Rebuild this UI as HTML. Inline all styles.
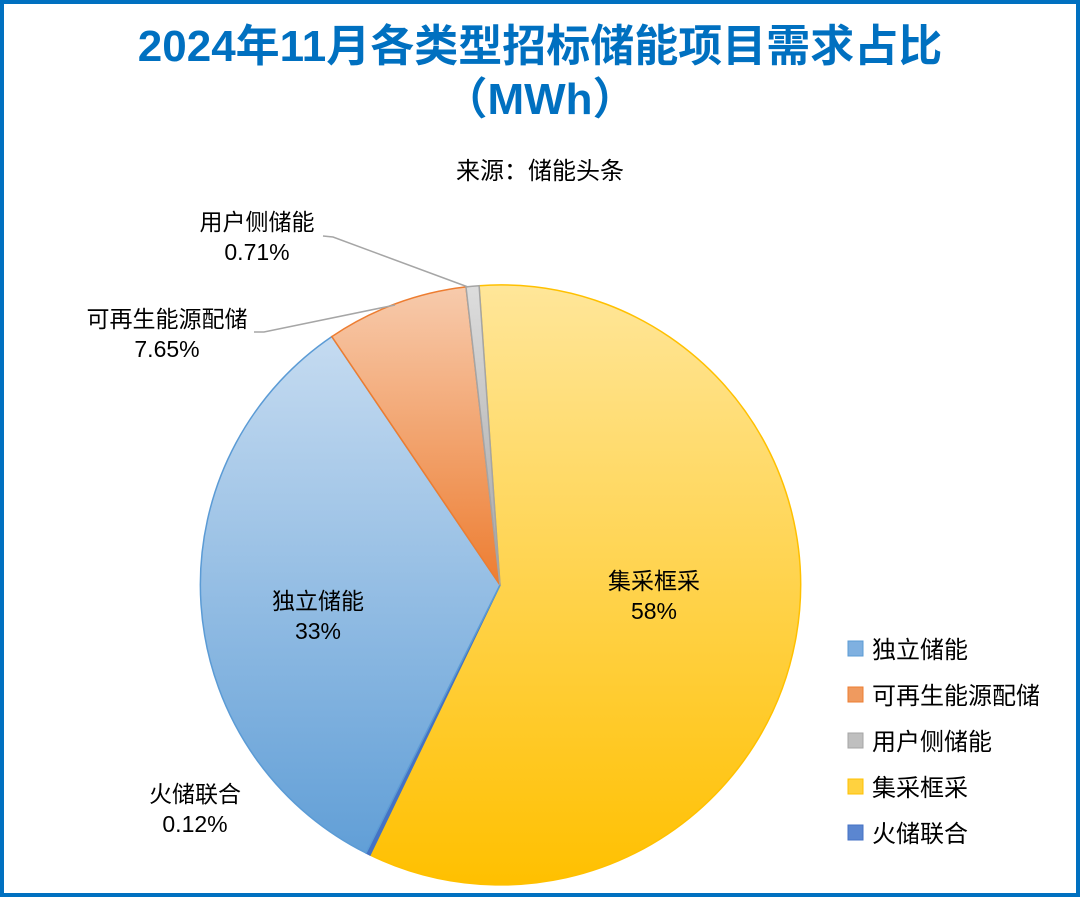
<!DOCTYPE html>
<html><head><meta charset="utf-8"><style>
body{margin:0;background:#fff}
svg{display:block}
text{font-family:"Liberation Sans","Noto Sans CJK SC",sans-serif}
</style></head><body>
<svg width="1080" height="898" viewBox="0 0 1080 898">
<defs>
<linearGradient id="gy" gradientUnits="userSpaceOnUse" x1="0" y1="285" x2="0" y2="885"><stop offset="0" stop-color="#ffe699"/><stop offset="1" stop-color="#ffc000"/></linearGradient>
<linearGradient id="gb" gradientUnits="userSpaceOnUse" x1="0" y1="285" x2="0" y2="885"><stop offset="0" stop-color="#cfe1f3"/><stop offset="1" stop-color="#5b9bd5"/></linearGradient>
<linearGradient id="go" gradientUnits="userSpaceOnUse" x1="0" y1="285" x2="0" y2="585"><stop offset="0" stop-color="#f7cbad"/><stop offset="1" stop-color="#ed7d31"/></linearGradient>
<linearGradient id="gg" gradientUnits="userSpaceOnUse" x1="0" y1="285" x2="0" y2="585"><stop offset="0" stop-color="#dddddd"/><stop offset="1" stop-color="#a5a5a5"/></linearGradient>
</defs>
<rect x="2" y="2" width="1076" height="893" fill="#fff" stroke="#0070c0" stroke-width="4"/>
<text x="540" y="61" text-anchor="middle" font-size="44" font-weight="bold" fill="#0070c0">2024年11月各类型招标储能项目需求占比</text>
<text x="540" y="114" text-anchor="middle" font-size="44" font-weight="bold" fill="#0070c0">（MWh）</text>
<text x="540" y="179" text-anchor="middle" font-size="24" fill="#000">来源：储能头条</text>
<path d="M500,585 L479.1,285.7 A300,300 0 1 1 370,855 Z" fill="url(#gy)" stroke="#ffc000" stroke-width="1.5"/>
<path d="M500,585 L370,855 A300,300 0 0 1 366,853 Z" fill="#4472c4" stroke="#4472c4" stroke-width="1.5"/>
<path d="M500,585 L366,853 A300,300 0 0 1 331.8,336.6 Z" fill="url(#gb)" stroke="#5b9bd5" stroke-width="1.5"/>
<path d="M500,585 L331.8,336.6 A300,300 0 0 1 466,286.9 Z" fill="url(#go)" stroke="#ed7d31" stroke-width="1.5"/>
<path d="M500,585 L466,286.9 A300,300 0 0 1 479.1,285.7 Z" fill="url(#gg)" stroke="#a5a5a5" stroke-width="1.5"/>
<polyline points="323,236 333,237 468,287" fill="none" stroke="#a6a6a6" stroke-width="1.5"/>
<polyline points="254,332 264,332 395,305" fill="none" stroke="#a6a6a6" stroke-width="1.5"/>
<g font-size="23" fill="#000" text-anchor="middle">
<text x="257" y="230">用户侧储能</text><text x="257" y="260">0.71%</text>
<text x="167" y="327">可再生能源配储</text><text x="167" y="357">7.65%</text>
<text x="318" y="609">独立储能</text><text x="318" y="639">33%</text>
<text x="654" y="589">集采框采</text><text x="654" y="619">58%</text>
<text x="195" y="802">火储联合</text><text x="195" y="832">0.12%</text>
</g>
<g font-size="24" fill="#000">
<rect x="848" y="641" width="15" height="15" fill="#7fb0e0" stroke="#5b9bd5"/><text x="872" y="658">独立储能</text>
<rect x="848" y="687" width="15" height="15" fill="#ef9a5f" stroke="#ed7d31"/><text x="872" y="704">可再生能源配储</text>
<rect x="848" y="733" width="15" height="15" fill="#bfbfbf" stroke="#a5a5a5"/><text x="872" y="750">用户侧储能</text>
<rect x="848" y="779" width="15" height="15" fill="#ffd23f" stroke="#ffc000"/><text x="872" y="796">集采框采</text>
<rect x="848" y="825" width="15" height="15" fill="#5b86d0" stroke="#4472c4"/><text x="872" y="842">火储联合</text>
</g>
</svg>
</body></html>
